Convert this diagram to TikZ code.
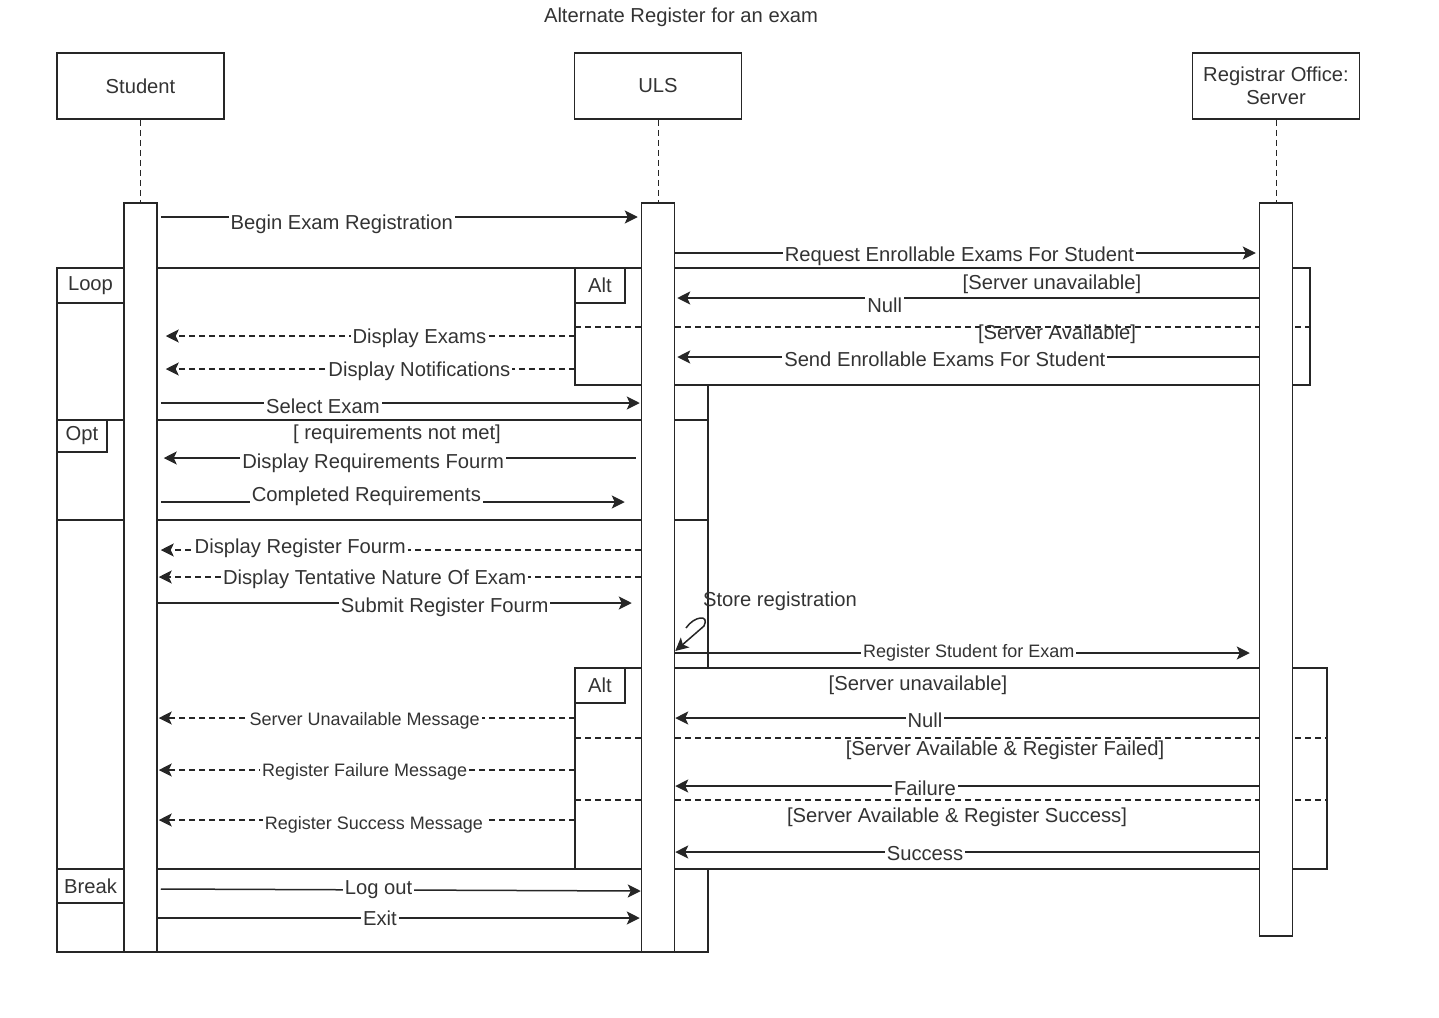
\documentclass[tikz,border=0pt]{standalone}
\usepackage{fontspec}
\setmainfont{Liberation Sans}
\usetikzlibrary{arrows.meta}

\begin{document}
\begin{tikzpicture}[x=0.5pt,y=-0.5pt,->,>={Stealth[length=6.5pt,width=6.5pt,inset=1.5pt]},line width=0.75pt,draw=black!85,
	every node/.style={font=\fontsize{10.1}{11.5}\selectfont,text=black!80},
	small text/.style={font=\fontsize{9}{11}\selectfont},
	actor node/.style={draw,minimum width=83.5pt,minimum height=33pt,align=center},
	bar node/.style={draw,fill=white,minimum width=16.5pt,inner sep=0pt},
	tag node/.style={draw,fill=white,anchor=north west,minimum height=17.5pt,inner sep=0pt,outer sep=0pt},
	frame line/.style={-},
	guard line/.style={-,dash pattern=on 3pt off 2pt},
	life line/.style={-,dash pattern=on 3pt off 2pt,line width=0.5pt},
	reply/.style={dash pattern=on 3pt off 2pt},
	msg text/.style={fill=white,inner sep=1pt,yshift=-1pt}]
		\useasboundingbox (0,0) rectangle (1439,1017);
		\node (title) at (681,17) {Alternate Register for an exam};
		\node[actor node] (student) at (140.5,86) {Student};
		\node[actor node] (uls) at (658,86) {ULS};
		\node[actor node] (server) at (1276,86) {Registrar Office:\\Server};
		
		\draw[frame line] (57,268) rectangle (708,952);
		\draw[frame line] (57,420) rectangle (708,520);
		\draw[frame line] (57,869) rectangle (708,952);
		\draw[frame line,fill=white] (575,268) rectangle (1310,385);
		\draw[guard line] (575,327) -- (1310,327);
		\draw[frame line,fill=white] (575,668) rectangle (1327,869);
		\draw[guard line] (575,738) -- (1327,738);
		\draw[guard line] (575,800) -- (1327,800);
		\node[tag node,minimum width=33.5pt] (loop) at (57,268) {Loop};
		\node[tag node,minimum width=25pt] (alt1) at (575,268) {Alt};
		\node[tag node,minimum width=25pt,minimum height=16pt] (opt) at (57,420) {Opt};
		\node[tag node,minimum width=25pt] (alt2) at (575,668) {Alt};
		\node[tag node,minimum width=33.5pt,minimum height=17pt] (brk) at (57,869) {Break};
		
		\node[bar node,minimum height=374.5pt] (sa) at (140.5,577.5) {};
		\node[bar node,minimum height=374.5pt] (ua) at (658,577.5) {};
		\node[bar node,minimum height=366.5pt] (va) at (1276,569.5) {};
		\draw[life line] (student) -- (sa);
		\draw[life line] (uls) -- (ua);
		\draw[life line] (server) -- (va);
		
		\node (g1) at (1052,284) {[Server unavailable]};
		\node (g2) at (1057,334) {[Server Available]};
		\node (g3) at (397,434) {[ requirements not met]};
		\node (g4) at (918,685) {[Server unavailable]};
		\node (g5) at (1005,750) {[Server Available \& Register Failed]};
		\node (g6) at (957,817) {[Server Available \& Register Success]};
		\node (store) at (780,601) {Store registration};
		\coordinate (hook) at (686,628);
		\draw (hook) .. controls (694,616) and (710,614) .. (704,626) -- (ua.east |- 0,651);
		
		\path
		    (sa.east |- 0,217) edge[shorten <=1.5pt,shorten >=1.5pt] node[msg text,pos=0.381,yshift=-2.5pt] {Begin Exam Registration} (ua.west |- 0,217)
		    (ua.east |- 0,253) edge[shorten >=1.5pt] node[msg text,pos=0.487,yshift=-0.5pt] {Request Enrollable Exams For Student} (va.west |- 0,253)
		    (va.west |- 0,298) edge[shorten >=1pt] node[msg text,pos=0.641,yshift=-2.5pt] {Null} (ua.east |- 0,298)
		    (va.west |- 0,357) edge[shorten >=1pt] node[msg text,pos=0.538] {Send Enrollable Exams For Student} (ua.east |- 0,357)
		    (alt1.north west |- 0,336) edge[reply,shorten >=4pt] node[msg text,pos=0.373] {Display Exams} (sa.east |- 0,336)
		    (alt1.north west |- 0,369) edge[reply,shorten >=4pt] node[msg text,pos=0.373] {Display Notifications} (sa.east |- 0,369)
		    (sa.east |- 0,403) edge[shorten <=1.5pt,shorten >=0.5pt] node[msg text,pos=0.342,yshift=-0.5pt] {Select Exam} (ua.west |- 0,403)
		    (ua.west |- 0,458) edge[shorten <=2.5pt,shorten >=3pt] node[msg text,pos=0.554,yshift=-1.5pt] {Display Requirements Fourm} (sa.east |- 0,458)
		    (sa.east |- 0,502) edge[shorten <=1.5pt,shorten >=8pt] node[msg text,pos=0.432,yshift=4pt] {Completed Requirements} (ua.west |- 0,502)
		    (ua.west |- 0,550) edge[reply,shorten >=1.5pt] node[msg text,pos=0.705,yshift=2pt] {Display Register Fourm} (sa.east |- 0,550)
		    (ua.west |- 0,577) edge[reply,shorten >=0.5pt] node[msg text,pos=0.551] {Display Tentative Nature Of Exam} (sa.east |- 0,577)
		    (sa.east |- 0,603) edge[shorten >=4.5pt] node[msg text,pos=0.594,yshift=-1pt] {Submit Register Fourm} (ua.west |- 0,603)
		    (ua.east |- 0,653) edge[shorten >=4.5pt] node[msg text,small text,pos=0.503,yshift=1pt] {Register Student for Exam} (va.west |- 0,653)
		    (va.west |- 0,718) edge node[msg text,pos=0.572] {Null} (ua.east |- 0,718)
		    (va.west |- 0,786) edge node[msg text,pos=0.572] {Failure} (ua.east |- 0,786)
		    (va.west |- 0,852) edge node[msg text,pos=0.572] {Success} (ua.east |- 0,852)
		    (alt2.north west |- 0,718) edge[reply,shorten >=0.5pt] node[msg text,small text,pos=0.504,yshift=-0.5pt] {Server Unavailable Message} (sa.east |- 0,718)
		    (alt2.north west |- 0,770) edge[reply,shorten >=0.5pt] node[msg text,small text,pos=0.504] {Register Failure Message} (sa.east |- 0,770)
		    (alt2.north west |- 0,820) edge[reply,shorten >=0.5pt] node[msg text,small text,pos=0.482,yshift=-1.5pt] {Register Success Message} (sa.east |- 0,820)
		    (sa.east |- 0,889) edge[shorten <=1.5pt] node[msg text,pos=0.457,yshift=1pt] {Log out} (ua.west |- 0,891)
		    (sa.east |- 0,918) edge[shorten >=0.5pt] node[msg text,pos=0.46,yshift=1pt] {Exit} (ua.west |- 0,918);
\end{tikzpicture}
\end{document}
